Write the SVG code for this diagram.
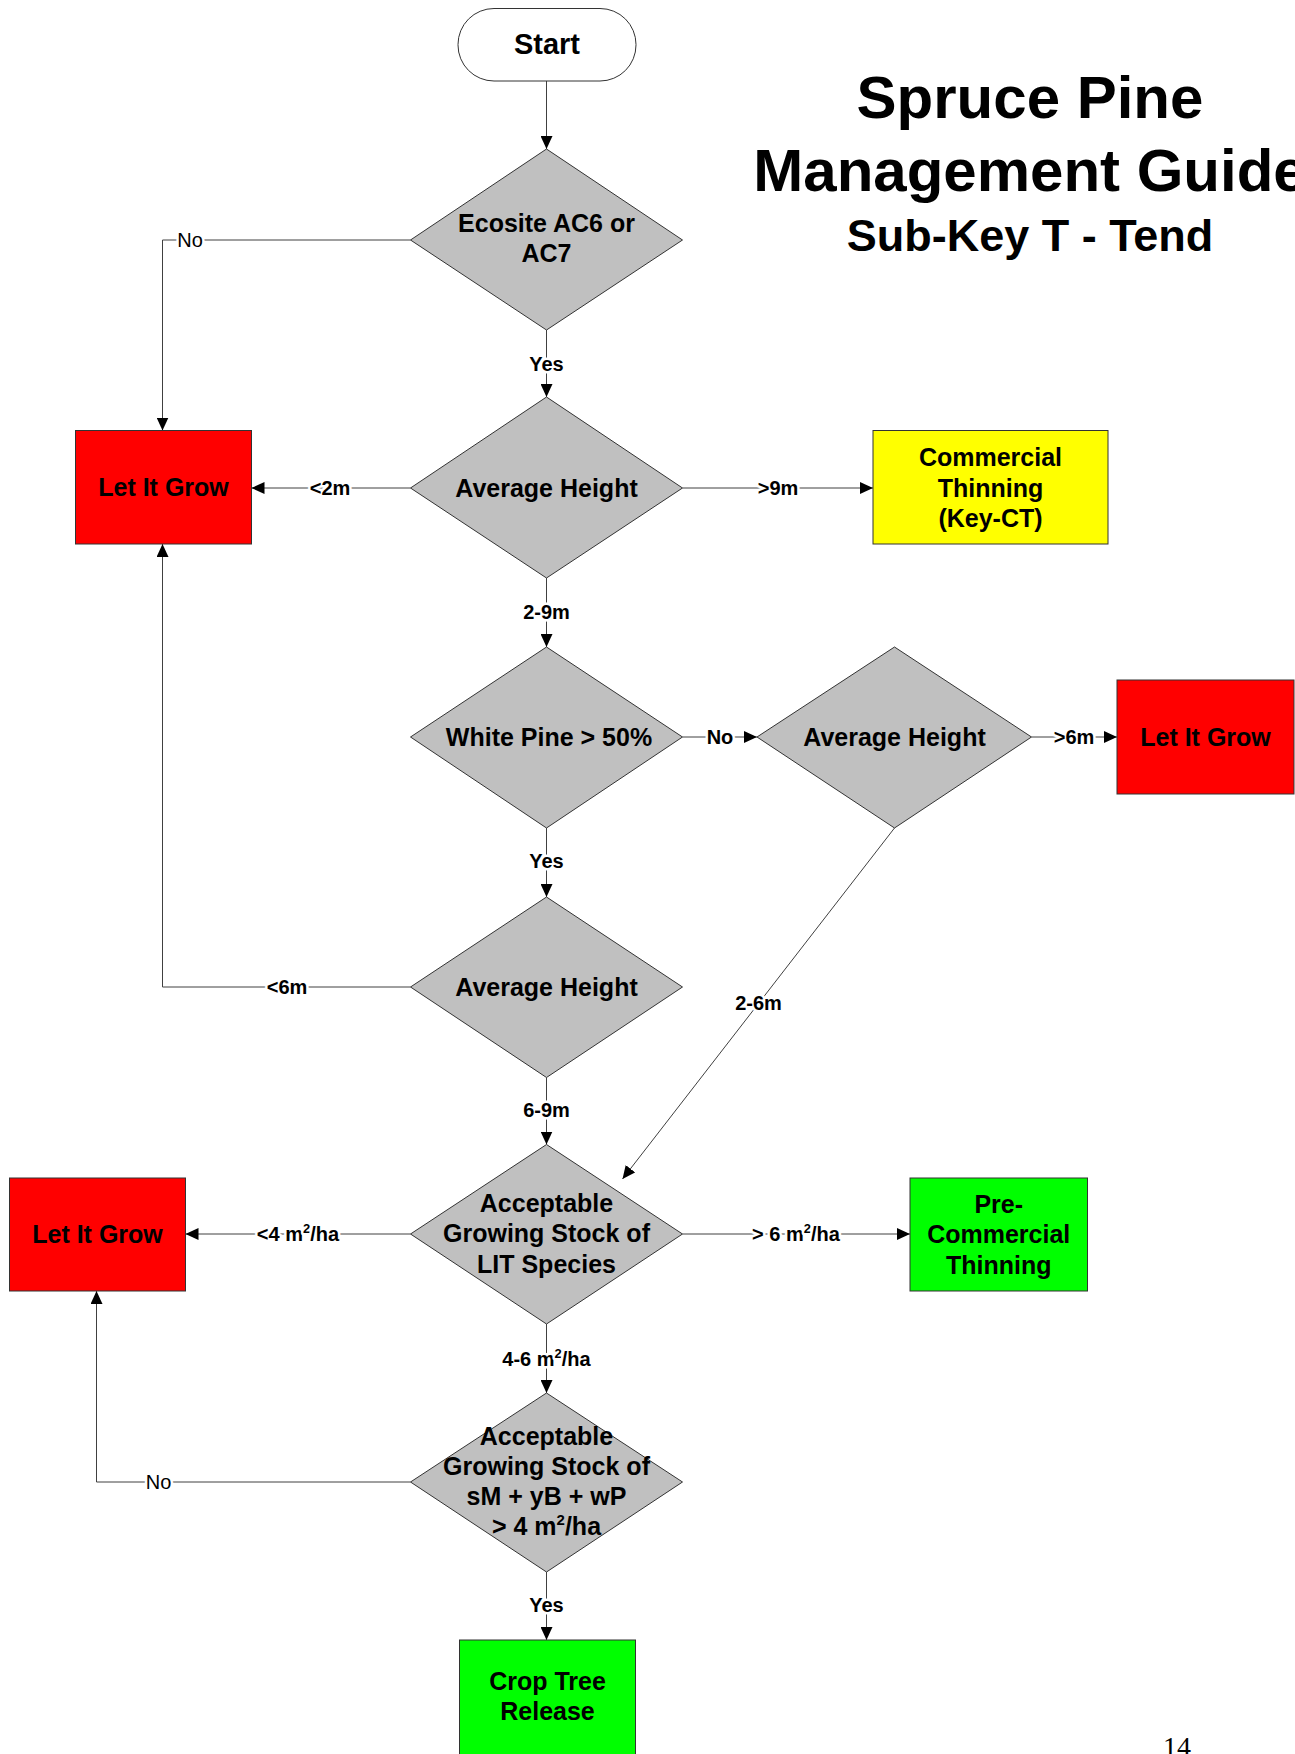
<svg xmlns="http://www.w3.org/2000/svg" width="1295" height="1754" viewBox="0 0 1295 1754">
<style>
.node{stroke:#333;stroke-width:1}
.dia{fill:#c0c0c0}
.red{fill:#ff0000}
.yel{fill:#ffff00}
.grn{fill:#00ff00}
.nt{font-family:"Liberation Sans",Arial,sans-serif;font-weight:bold;font-size:25px;fill:#000;text-anchor:middle}
.big{font-size:29px}
.conn{fill:none;stroke:#404040;stroke-width:1}
.lbl{font-family:"Liberation Sans",Arial,sans-serif;font-weight:bold;font-size:20px;fill:#000;text-anchor:middle;stroke:#fff;stroke-width:5px;paint-order:stroke;stroke-linejoin:round}
.lr{font-weight:normal}
.sup{font-size:13px}
.title{font-family:"Liberation Sans",Arial,sans-serif;font-weight:bold;fill:#000;text-anchor:middle}
</style>
<defs>
<marker id="arr" markerUnits="userSpaceOnUse" markerWidth="13" markerHeight="12" refX="13" refY="6" orient="auto">
<path d="M0,0 L13,6 L0,12 z" fill="#000"/>
</marker>
</defs>
<rect width="1295" height="1754" fill="#fff"/>

<g id="title">
<text class="title" x="1030" y="118" font-size="60">Spruce Pine</text>
<text class="title" x="1030" y="191" font-size="60">Management Guide</text>
<text class="title" x="1030" y="251" font-size="45">Sub-Key T - Tend</text>
</g>

<g id="connectors">
<path class="conn" d="M546.5,81 V149" marker-end="url(#arr)"/>
<path class="conn" d="M410.5,240 H162.5 V430.5" marker-end="url(#arr)"/>
<path class="conn" d="M546.5,330 V397" marker-end="url(#arr)"/>
<path class="conn" d="M410.5,488 H251.5" marker-end="url(#arr)"/>
<path class="conn" d="M682.5,488 H873" marker-end="url(#arr)"/>
<path class="conn" d="M546.5,578 V647" marker-end="url(#arr)"/>
<path class="conn" d="M682.5,737 H757" marker-end="url(#arr)"/>
<path class="conn" d="M1031.5,737 H1117" marker-end="url(#arr)"/>
<path class="conn" d="M894.5,828 L622.5,1179" marker-end="url(#arr)"/>
<path class="conn" d="M546.5,828 V897" marker-end="url(#arr)"/>
<path class="conn" d="M410.5,987 H162.5 V544" marker-end="url(#arr)"/>
<path class="conn" d="M546.5,1077.5 V1144.5" marker-end="url(#arr)"/>
<path class="conn" d="M410.5,1234 H185.5" marker-end="url(#arr)"/>
<path class="conn" d="M682.5,1234 H910" marker-end="url(#arr)"/>
<path class="conn" d="M546.5,1324 V1393" marker-end="url(#arr)"/>
<path class="conn" d="M410.5,1482 H96.5 V1291" marker-end="url(#arr)"/>
<path class="conn" d="M546.5,1572 V1640" marker-end="url(#arr)"/>

<text class="lbl lr" x="190" y="247">No</text>
<text class="lbl" x="546.5" y="371">Yes</text>
<text class="lbl" x="330" y="495">&lt;2m</text>
<text class="lbl" x="778" y="495">&gt;9m</text>
<text class="lbl" x="546.5" y="619">2-9m</text>
<text class="lbl" x="720" y="744">No</text>
<text class="lbl" x="1074" y="744">&gt;6m</text>
<text class="lbl" x="758.5" y="1010">2-6m</text>
<text class="lbl" x="546.5" y="868">Yes</text>
<text class="lbl" x="287" y="994">&lt;6m</text>
<text class="lbl" x="546.5" y="1117">6-9m</text>
<text class="lbl" x="298" y="1241">&lt;4 m<tspan class="sup" dy="-8">2</tspan><tspan dy="8">/ha</tspan></text>
<text class="lbl" x="796" y="1241">&gt; 6 m<tspan class="sup" dy="-8">2</tspan><tspan dy="8">/ha</tspan></text>
<text class="lbl" x="546.5" y="1366">4-6 m<tspan class="sup" dy="-8">2</tspan><tspan dy="8">/ha</tspan></text>
<text class="lbl lr" x="158.5" y="1489">No</text>
<text class="lbl" x="546.5" y="1612">Yes</text>
</g>

<g id="start">
<rect x="458" y="8.5" width="178" height="72.5" rx="36" ry="36" fill="#fff" class="node"/>
<text class="nt big" x="547" y="54">Start</text>
</g>

<g id="d1">
<polygon class="node dia" points="546.5,149 682.5,240 546.5,330 410.5,240"/>
<text class="nt" x="546.5" y="231.5">Ecosite AC6 or</text>
<text class="nt" x="546.5" y="261.5">AC7</text>
</g>

<g id="d2">
<polygon class="node dia" points="546.5,397 682.5,488 546.5,578 410.5,488"/>
<text class="nt" x="546.5" y="497">Average Height</text>
</g>

<g id="lig1">
<rect class="node red" x="75.5" y="430.5" width="176" height="113.5"/>
<text class="nt" x="163.5" y="496">Let It Grow</text>
</g>

<g id="ct">
<rect class="node yel" x="873" y="430.5" width="235" height="113.5"/>
<text class="nt" x="990.5" y="466">Commercial</text>
<text class="nt" x="990.5" y="497">Thinning</text>
<text class="nt" x="990.5" y="527">(Key-CT)</text>
</g>

<g id="d3">
<polygon class="node dia" points="546.5,647 682.5,737 546.5,828 410.5,737"/>
<text class="nt" x="549" y="746">White Pine &gt; 50%</text>
</g>

<g id="d6">
<polygon class="node dia" points="894.5,647 1031.5,737 894.5,828 757,737"/>
<text class="nt" x="894.5" y="746">Average Height</text>
</g>

<g id="lig2">
<rect class="node red" x="1117" y="680" width="177" height="114"/>
<text class="nt" x="1205.5" y="746">Let It Grow</text>
</g>

<g id="d4">
<polygon class="node dia" points="546.5,897 682.5,987 546.5,1077.5 410.5,987"/>
<text class="nt" x="546.5" y="996">Average Height</text>
</g>

<g id="d5">
<polygon class="node dia" points="546.5,1144.5 682.5,1234 546.5,1324 410.5,1234"/>
<text class="nt" x="546.5" y="1212">Acceptable</text>
<text class="nt" x="546.5" y="1242">Growing Stock of</text>
<text class="nt" x="546.5" y="1272.5">LIT Species</text>
</g>

<g id="lig3">
<rect class="node red" x="9.5" y="1178" width="176" height="113"/>
<text class="nt" x="97.5" y="1243">Let It Grow</text>
</g>

<g id="pct">
<rect class="node grn" x="910" y="1178" width="177.5" height="113"/>
<text class="nt" x="998.75" y="1213">Pre-</text>
<text class="nt" x="998.75" y="1243">Commercial</text>
<text class="nt" x="998.75" y="1274">Thinning</text>
</g>

<g id="d7">
<polygon class="node dia" points="546.5,1393 682.5,1482 546.5,1572 410.5,1482"/>
<text class="nt" x="546.5" y="1444.5">Acceptable</text>
<text class="nt" x="546.5" y="1475">Growing Stock of</text>
<text class="nt" x="546.5" y="1505">sM + yB + wP</text>
<text class="nt" x="546.5" y="1534.5">&gt; 4 m<tspan font-size="15" dy="-10">2</tspan><tspan dy="10">/ha</tspan></text>
</g>

<g id="ctr">
<rect class="node grn" x="459.5" y="1640" width="176" height="120"/>
<text class="nt" x="547.5" y="1689.5">Crop Tree</text>
<text class="nt" x="547.5" y="1720">Release</text>
</g>

<g id="page">
<text x="1163" y="1756" font-family="'Liberation Serif','Times New Roman',serif" font-size="28" fill="#000">14</text>
</g>
</svg>
